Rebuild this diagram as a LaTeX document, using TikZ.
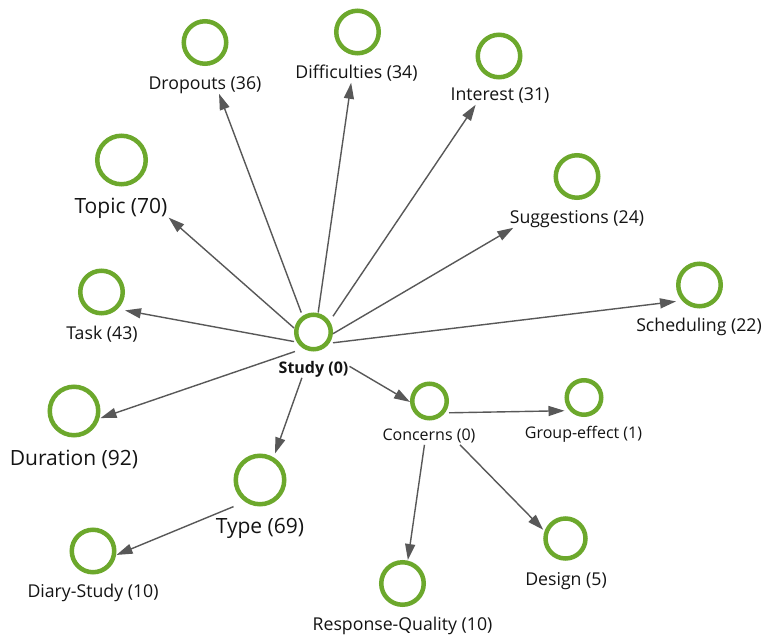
\documentclass[tikz,border=0pt]{standalone}
\usepackage{fontspec}
\setmainfont{Open Sans}
\usetikzlibrary{arrows.meta,intersections,fit}
\definecolor{ring}{RGB}{108,168,44}
\definecolor{wire}{RGB}{88,88,88}
\definecolor{ink}{RGB}{20,20,20}
\tikzset{
  vtx/.style={circle,draw=ring,line width=4.5pt,fill=white,inner sep=0pt,minimum size=#1},
  lbl/.style={inner xsep=1pt,inner ysep=0.16em,text height=0.76em,text depth=0.24em,text=ink,yshift=-4pt},
  lblS/.style={lbl,font=\fontsize{16}{19}\selectfont},
  lblM/.style={lbl,font=\fontsize{17.7}{21}\selectfont},
  lblL/.style={lbl,font=\fontsize{21}{25}\selectfont},
  grp/.style={inner sep=0pt},
  edge/.style={draw=wire,line width=1.4pt,-{Triangle[length=16pt,width=10pt]}},
}
% a vertex: ring, caption below it, and the box spanning both
% #1 name, #2 #3 ring centre, #4 ring diameter, #5 #6 caption centre, #7 caption style, #8 caption
\newcommand\vertex[8]{%
  \node[vtx=#4] (#1C) at (#2,#3) {};
  \node[#7] (#1L) at (#5,#6) {#8};
  \node[grp,fit=(#1C.north)(#1C.south)(#1C.east)(#1C.west)(#1L.north west)(#1L.south east)] (#1G) {};
  \path[name path=#1B] (#1C.west|-#1C.north) rectangle (#1C.east|-#1C.south)
                       (#1L.north west) rectangle (#1L.south east);
}
% a connector aimed from box centre to box centre, cut where it leaves the
% outline of the source vertex and where it first meets the target vertex
\newcommand\link[2]{%
  \path[name path=ray] (#1G.center) -- (#2G.center);
  \path[name intersections={of=ray and #1B, sort by=ray, total=\hits}] (intersection-\hits) coordinate (#1#2s);
  \path[name intersections={of=ray and #2B, sort by=ray}] (intersection-1) coordinate (#1#2e);
  \draw[edge] (#1#2s) -- (#1#2e);
}
\begin{document}
\begin{tikzpicture}[x=1pt,y=-1pt]
  \useasboundingbox[fill=white] (0,0) rectangle (762,637);

  \vertex{study}{313.5}{332}{34.5}{313.5}{367}{lblS}{\textbf{Study (0)}}
  \vertex{conc}{429.5}{401}{34.5}{429}{434}{lblS}{Concerns (0)}
  \vertex{grp}{584}{397.5}{34.5}{583.5}{432}{lblS}{Group-effect (1)}
  \vertex{design}{565.5}{538.5}{40}{566}{579}{lblM}{Design (5)}
  \vertex{resp}{402.5}{583.5}{42.5}{402.5}{624}{lblM}{Response-Quality (10)}
  \vertex{type}{260}{480}{48.5}{260}{527}{lblL}{Type (69)}
  \vertex{diary}{93}{551}{42.5}{93}{591}{lblM}{Diary-Study (10)}
  \vertex{dur}{74}{411}{48.5}{74}{459}{lblL}{Duration (92)}
  \vertex{task}{101.5}{292}{42.5}{102}{333}{lblM}{Task (43)}
  \vertex{topic}{121.5}{160}{48.5}{121}{207}{lblL}{Topic (70)}
  \vertex{drop}{205}{42.5}{42.5}{205}{83}{lblM}{Dropouts (36)}
  \vertex{diff}{357.5}{32}{42.5}{356.5}{72}{lblM}{Difficulties (34)}
  \vertex{inter}{499}{56}{42.5}{500}{94}{lblM}{Interest (31)}
  \vertex{sugg}{577}{176.5}{42.5}{577}{217}{lblM}{Suggestions (24)}
  \vertex{sched}{699.5}{285}{42.5}{699}{325}{lblM}{Scheduling (22)}

  \link{study}{drop}
  \link{study}{diff}
  \link{study}{inter}
  \link{study}{sugg}
  \link{study}{sched}
  \link{study}{topic}
  \link{study}{task}
  \link{study}{dur}
  \link{study}{type}
  \link{study}{conc}
  \link{conc}{grp}
  \link{conc}{resp}
  \link{conc}{design}
  \link{type}{diary}
\end{tikzpicture}
\end{document}
